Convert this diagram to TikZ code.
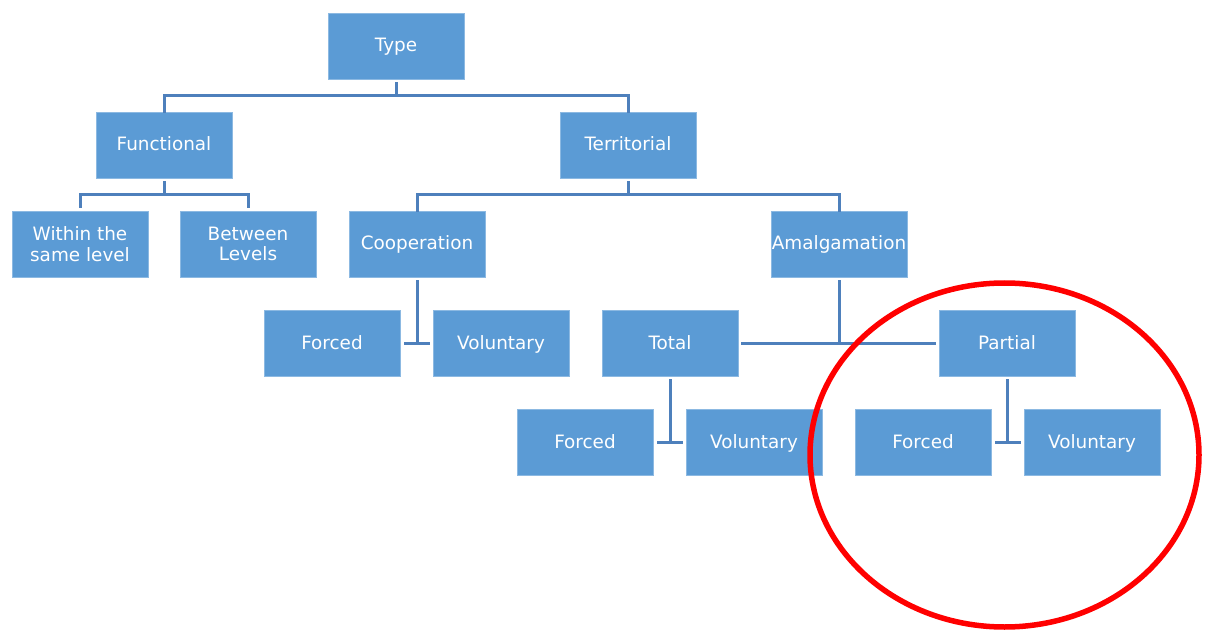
\documentclass[tikz,border=0pt]{standalone}
\usepackage{fontspec}
\setmainfont{DejaVu Sans}
\usetikzlibrary{calc}
\definecolor{boxblue}{RGB}{91,155,213}
\definecolor{lineblue}{RGB}{78,128,188}
\definecolor{ringred}{RGB}{255,0,0}
\begin{document}
\begin{tikzpicture}[x=1pt,y=1pt,
  box/.style={rectangle,fill=boxblue,draw=boxblue!70!white,line width=0.6pt,
    minimum width=136pt,minimum height=66pt,inner sep=0pt,text=white,
    align=center,font=\fontsize{18.4}{20.5}\selectfont},
  one/.style={box,text height=15pt,text depth=3pt},
  conn/.style={draw=lineblue,line width=3pt}]
\useasboundingbox (0,0) rectangle (1205,-631);
\node[one] (type) at (396,-46) {Type};
\node[one] (func) at (164,-145) {Functional};
\node[one] (terr) at (628,-145) {Territorial};
\node[box] (within) at (80,-244) {Within the\\same level};
\node[box] (between) at (248,-244) {Between\\Levels};
\node[one] (coop) at (417,-244) {Cooperation};
\node[one] (amal) at (839,-244) {Amalgamation};
\node[one] (cforced) at (332,-343) {Forced};
\node[one] (cvol) at (501,-343) {Voluntary};
\node[one] (total) at (670,-343) {Total};
\node[one] (partial) at (1007,-343) {Partial};
\node[one] (tforced) at (585,-442) {Forced};
\node[one] (tvol) at (754,-442) {Voluntary};
\node[one] (pforced) at (923,-442) {Forced};
\node[one] (pvol) at (1092,-442) {Voluntary};
% Type -> Functional, Territorial
\coordinate (tj) at ($(type.south)+(0,-16)$);
\draw[conn] ($(type.south)+(0,-3)$) -- (tj);
\draw[conn] ($(func.north)+(0,-1)$) |- (tj) -| ($(terr.north)+(0,-1)$);
% Functional -> children
\coordinate (fj) at ($(func.south)+(0,-16)$);
\draw[conn] ($(func.south)+(0,-3)$) -- (fj);
\draw[conn] ($(within.north)+(0,3)$) |- (fj) -| ($(between.north)+(0,3)$);
% Territorial -> Cooperation, Amalgamation
\coordinate (trj) at ($(terr.south)+(0,-16)$);
\draw[conn] ($(terr.south)+(0,-3)$) -- (trj);
\draw[conn] ($(coop.north)+(0,-1)$) |- (trj) -| ($(amal.north)+(0,-1)$);
% Cooperation -> Forced, Voluntary
\draw[conn] ($(coop.south)+(0,-3)$) -- (coop.south |- cforced.east);
\draw[conn] ($(cforced.east)+(4,0)$) -- ($(cvol.west)+(-3,0)$);
% Amalgamation -> Total, Partial
\draw[conn] ($(amal.south)+(0,-3)$) -- (amal.south |- total.east);
\draw[conn] ($(total.east)+(3,0)$) -- ($(partial.west)+(-3,0)$);
% Total -> Forced, Voluntary
\draw[conn] ($(total.south)+(0,-3)$) -- (total.south |- tforced.east);
\draw[conn] ($(tforced.east)+(4,0)$) -- ($(tvol.west)+(-3,0)$);
% Partial -> Forced, Voluntary
\draw[conn] ($(partial.south)+(0,-3)$) -- (partial.south |- pforced.east);
\draw[conn] ($(pforced.east)+(4,0)$) -- ($(pvol.west)+(-3,0)$);
% red ring
\draw[ringred,line width=5.5pt] (1004.5,-455) ellipse [x radius=194.5,y radius=172];
\end{tikzpicture}
\end{document}
